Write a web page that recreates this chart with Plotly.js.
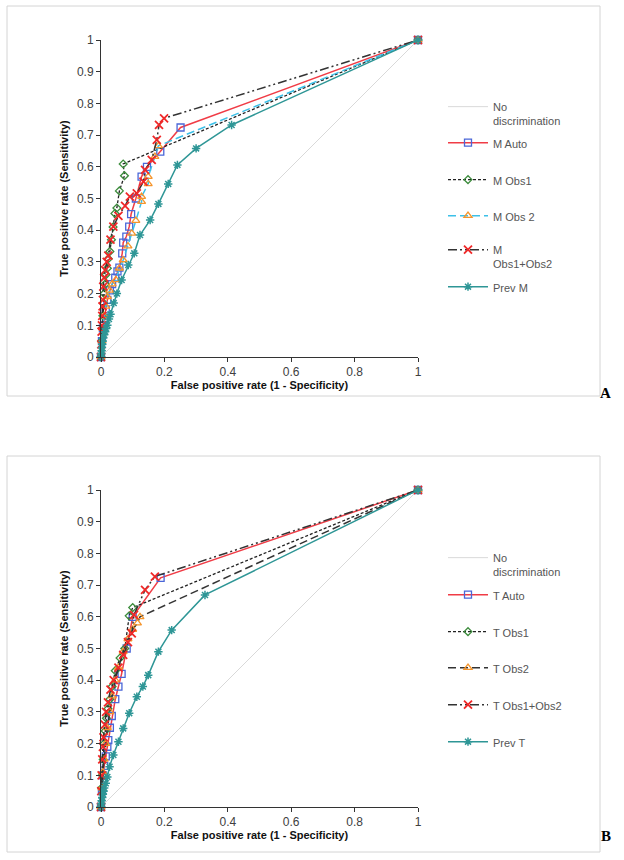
<!DOCTYPE html>
<html>
<head>
<meta charset="utf-8">
<script src="https://cdn.plot.ly/plotly-3.0.1.min.js"></script>
<style>
  body { margin: 0; background: #fff; }
  #chart { width: 624px; height: 860px; }
</style>
</head>
<body>
<div id="chart"></div>
<script>
// ---- panel A (M) ----
const noDiscX = [0, 1];
const noDiscY = [0, 1];

const mAutoX = [0, 0.003, 0.006, 0.01, 0.015, 0.02, 0.028, 0.035, 0.045, 0.052, 0.058, 0.067, 0.07, 0.08, 0.089, 0.095, 0.11, 0.128, 0.145, 0.187, 0.251, 1];
const mAutoY = [0, 0.05, 0.09, 0.12, 0.15, 0.18, 0.21, 0.23, 0.25, 0.27, 0.282, 0.327, 0.361, 0.38, 0.411, 0.451, 0.5, 0.569, 0.6, 0.648, 0.724, 1];

const mObs1X = [0, 0.002, 0.004, 0.006, 0.008, 0.01, 0.013, 0.016, 0.02, 0.023, 0.028, 0.033, 0.038, 0.044, 0.05, 0.058, 0.074, 0.07, 1];
const mObs1Y = [0, 0.05, 0.09, 0.13, 0.17, 0.2, 0.23, 0.26, 0.28, 0.31, 0.333, 0.37, 0.41, 0.453, 0.47, 0.524, 0.572, 0.609, 1];

const mObs2X = [0, 0.003, 0.006, 0.01, 0.015, 0.02, 0.027, 0.035, 0.047, 0.058, 0.07, 0.085, 0.097, 0.11, 0.128, 0.128, 0.149, 0.149, 0.17, 0.181, 1];
const mObs2Y = [0, 0.05, 0.09, 0.13, 0.16, 0.19, 0.21, 0.23, 0.243, 0.28, 0.306, 0.35, 0.39, 0.43, 0.49, 0.506, 0.546, 0.569, 0.632, 0.666, 1];

const mBothX = [0, 0.001, 0.002, 0.003, 0.004, 0.005, 0.006, 0.007, 0.01, 0.013, 0.018, 0.023, 0.03, 0.039, 0.055, 0.076, 0.091, 0.113, 0.134, 0.139, 0.16, 0.176, 0.183, 0.199, 1];
const mBothY = [0, 0.04, 0.08, 0.1, 0.13, 0.16, 0.18, 0.222, 0.25, 0.274, 0.3, 0.32, 0.37, 0.411, 0.445, 0.477, 0.506, 0.516, 0.553, 0.59, 0.622, 0.685, 0.732, 0.753, 1];

const prevMX = [0, 0.001, 0.002, 0.003, 0.004, 0.005, 0.007, 0.01, 0.013, 0.016, 0.02, 0.025, 0.03, 0.04, 0.05, 0.065, 0.086, 0.105, 0.123, 0.155, 0.181, 0.212, 0.241, 0.30, 0.412, 1];
const prevMY = [0, 0.01, 0.02, 0.03, 0.04, 0.05, 0.06, 0.07, 0.08, 0.09, 0.1, 0.12, 0.135, 0.17, 0.2, 0.243, 0.29, 0.327, 0.385, 0.432, 0.483, 0.546, 0.606, 0.658, 0.732, 1];

// ---- panel B (T) ----
const tAutoX = [0, 0.003, 0.006, 0.01, 0.015, 0.02, 0.023, 0.028, 0.034, 0.045, 0.055, 0.065, 0.081, 0.1, 0.188, 1];
const tAutoY = [0, 0.05, 0.1, 0.13, 0.16, 0.19, 0.211, 0.25, 0.287, 0.34, 0.38, 0.42, 0.5, 0.6, 0.723, 1];

const tObs1X = [0, 0.002, 0.004, 0.007, 0.01, 0.013, 0.017, 0.022, 0.028, 0.035, 0.045, 0.06, 0.075, 0.089, 0.1, 1];
const tObs1Y = [0, 0.06, 0.1, 0.15, 0.2, 0.24, 0.28, 0.31, 0.34, 0.38, 0.43, 0.47, 0.5, 0.603, 0.629, 1];

const tObs2X = [0, 0.003, 0.006, 0.01, 0.015, 0.02, 0.028, 0.035, 0.045, 0.055, 0.07, 0.085, 0.1, 0.115, 0.123, 1];
const tObs2Y = [0, 0.06, 0.11, 0.15, 0.2, 0.25, 0.3, 0.35, 0.4, 0.44, 0.49, 0.53, 0.56, 0.58, 0.6, 1];

const tBothX = [0, 0.001, 0.002, 0.004, 0.006, 0.008, 0.012, 0.016, 0.022, 0.03, 0.04, 0.055, 0.07, 0.085, 0.097, 0.104, 0.139, 0.17, 1];
const tBothY = [0, 0.05, 0.1, 0.15, 0.19, 0.22, 0.26, 0.3, 0.33, 0.37, 0.4, 0.44, 0.48, 0.52, 0.548, 0.606, 0.685, 0.727, 1];

const prevTX = [0, 0.001, 0.002, 0.004, 0.006, 0.008, 0.01, 0.015, 0.02, 0.027, 0.039, 0.055, 0.07, 0.089, 0.113, 0.132, 0.149, 0.181, 0.223, 0.328, 1];
const prevTY = [0, 0.01, 0.02, 0.03, 0.04, 0.05, 0.06, 0.075, 0.095, 0.127, 0.164, 0.206, 0.248, 0.296, 0.348, 0.38, 0.416, 0.49, 0.558, 0.669, 1];

const W = 624, H = 860;
const px = v => v / W;
const py = v => 1 - v / H;

const RED = '#f03c46', BLUE = '#4a66d8', GREEN = '#3c8c3c', ORANGE = '#f5952c',
      CYAN = '#3cc0e8', XRED = '#f02828', TEAL = '#2e9696';

const sq = {symbol: 'square-open', size: 7, color: BLUE, line: {width: 1.3}};
const dia = {symbol: 'diamond-open', size: 6, color: GREEN, line: {width: 1.3}};
const tri = {symbol: 'triangle-up-open', size: 7, color: ORANGE, line: {width: 1.3}};
const ex = {symbol: 'x-thin-open', size: 8, color: XRED, line: {width: 1.8, color: XRED}};
const star = {symbol: 'asterisk-open', size: 7, color: TEAL, line: {width: 1.5, color: TEAL}};
const dashDotDot = '9px,3px,2px,3px,2px,3px';

const A = ['x', 'y'], B = ['x2', 'y2'];

// each legend entry gets its own legend box so the rows sit where Excel put them
const legends = {};
let nLegend = 0;
function series(name, x, y, line, marker, ax, rowTop) {
  nLegend++;
  const key = nLegend === 1 ? 'legend' : 'legend' + nLegend;
  legends[key] = {
    x: px(443), y: py(rowTop), xanchor: 'left', yanchor: 'top', valign: 'top',
    font: {family: 'Liberation Sans, Arial, sans-serif', size: 11, color: '#555'},
    bgcolor: 'rgba(0,0,0,0)', itemwidth: 40
  };
  const t = {
    type: 'scatter', mode: 'lines',
    name: name, x: x, y: y, line: line,
    xaxis: ax[0], yaxis: ax[1], legend: key, showlegend: true,
    cliponaxis: false
  };
  if (marker) {
    t.mode = 'lines+markers';
    t.marker = marker;
  }
  return t;
}

const data = [
  series('No<br>discrimination', noDiscX, noDiscY, {color: '#d9d9d9', width: 1}, null, A, 93),
  series('M Auto', mAutoX, mAutoY, {color: RED, width: 1.5}, sq, A, 129),
  series('M Obs1', mObs1X, mObs1Y, {color: '#222', width: 1.3, dash: '3px,2px'}, dia, A, 166),
  series('M Obs 2', mObs2X, mObs2Y, {color: CYAN, width: 1.5, dash: '8px,4px'}, tri, A, 202),
  series('M<br>Obs1+Obs2', mBothX, mBothY, {color: '#333', width: 1.5, dash: dashDotDot}, ex, A, 236),
  series('Prev M', prevMX, prevMY, {color: TEAL, width: 1.5}, star, A, 273),

  series('No<br>discrimination', noDiscX, noDiscY, {color: '#d9d9d9', width: 1}, null, B, 544),
  series('T Auto', tAutoX, tAutoY, {color: RED, width: 1.5}, sq, B, 581),
  series('T Obs1', tObs1X, tObs1Y, {color: '#222', width: 1.3, dash: '3px,2px'}, dia, B, 618),
  series('T Obs2', tObs2X, tObs2Y, {color: '#333', width: 1.5, dash: '8px,4px'}, tri, B, 654),
  series('T Obs1+Obs2', tBothX, tBothY, {color: '#333', width: 1.5, dash: dashDotDot}, ex, B, 691),
  series('Prev T', prevTX, prevTY, {color: TEAL, width: 1.5}, star, B, 728)
];

const tickFont = {family: 'Liberation Sans, Arial, sans-serif', size: 12, color: '#404040'};
const titleFont = {family: 'Liberation Sans, Arial, sans-serif', size: 11, color: '#111', weight: 'bold'};

function xAxis(anchor) {
  return {
    domain: [px(101), px(418)], range: [0, 1], anchor: anchor,
    dtick: 0.2, ticks: 'outside', ticklen: 4, tickcolor: '#333',
    showline: true, linecolor: '#333', linewidth: 1, showgrid: false, zeroline: false,
    tickfont: tickFont,
    title: {text: 'False positive rate (1 - Specificity)', font: titleFont, standoff: 2}
  };
}
function yAxis(anchor, top, bottom) {
  return {
    domain: [py(bottom), py(top)], range: [0, 1], anchor: anchor,
    dtick: 0.1, ticks: 'outside', ticklen: 4, tickcolor: '#333',
    showline: true, linecolor: '#333', linewidth: 1, showgrid: false, zeroline: false,
    tickfont: tickFont,
    title: {text: 'True positive rate (Sensitivity)', font: titleFont, standoff: 6}
  };
}

const frame = (y0, y1) => ({
  type: 'rect', xref: 'paper', yref: 'paper',
  x0: px(7), x1: px(600), y0: py(y1), y1: py(y0),
  line: {color: '#d4d4d4', width: 1}
});

const layout = Object.assign({
  width: W, height: H,
  margin: {l: 0, r: 0, t: 0, b: 0},
  showlegend: true,
  paper_bgcolor: '#fff', plot_bgcolor: '#fff',
  xaxis: xAxis('y'),
  yaxis: yAxis('x', 40, 357),
  xaxis2: xAxis('y2'),
  yaxis2: yAxis('x2', 490, 807),
  shapes: [frame(6, 396), frame(456, 852)],
  annotations: [
    {text: 'A', xref: 'paper', yref: 'paper', x: px(613), y: py(393), showarrow: false,
     font: {family: 'Liberation Serif, Times New Roman, serif', size: 15, color: '#000', weight: 'bold'}},
    {text: 'B', xref: 'paper', yref: 'paper', x: px(613), y: py(846), showarrow: false,
     font: {family: 'Liberation Serif, Times New Roman, serif', size: 15, color: '#000', weight: 'bold'}}
  ]
}, legends);

Plotly.newPlot('chart', data, layout, {displayModeBar: false});
</script>
</body>
</html>
